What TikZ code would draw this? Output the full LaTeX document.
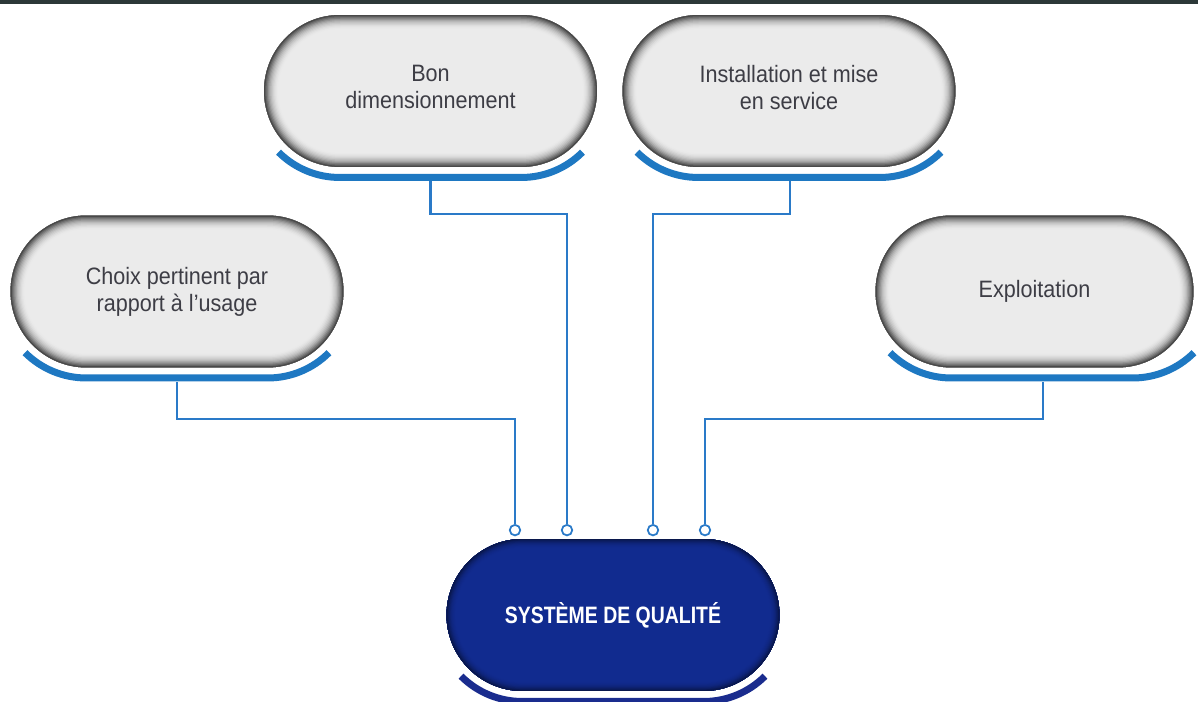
\documentclass[tikz,border=0pt]{standalone}
\usepackage{fontspec}
\setmainfont{Liberation Sans}[FakeStretch=0.91]
\newfontfamily\qualfont{Liberation Sans}[FakeStretch=0.82]
\usepackage{tikz}
\usetikzlibrary{calc}
\definecolor{pillgray}{HTML}{EBEBEB}
\definecolor{pilltext}{HTML}{3D3D45}
\definecolor{qualnavy}{HTML}{112B8F}
\definecolor{bandblue}{HTML}{1E78C2}
\definecolor{bandnavy}{HTML}{1A2C8E}
\definecolor{linkblue}{HTML}{2A7AC8}
\definecolor{topbar}{HTML}{2C3838}

% inner shadow of a pill: base colour, reach (cm), darkness at the rim
\newcommand{\pillglow}[3]{%
  \foreach \k [evaluate=\k as \lw using {2*#2*(1-\k/12)},
               evaluate=\k as \mx using {int(100-#3*(\k/12)^2)}] in {0,...,11}
    \draw[line width=\lw cm, #1!\mx!black, rounded corners=1.52cm]
      (path picture bounding box.south west) rectangle (path picture bounding box.north east);}

% blue band under a pill: node, colour, extra length on the right
\newcommand{\underband}[3]{%
  \draw[line width=0.14cm, #2] ($(#1.west)+(76,0)$) ++(225:1.73cm)
    arc[start angle=225, end angle=270, radius=1.73cm]
    -- ($(#1.east)+(-76+#3,-86.5)$)
    arc[start angle=270, end angle=315, radius=1.73cm];}

\begin{document}
\begin{tikzpicture}[
    x=0.02cm, y=0.02cm,
    pill/.style={rectangle, rounded corners=1.52cm, minimum width=6.66cm, minimum height=3.04cm,
        inner sep=0pt, fill=pillgray, text=pilltext, align=center,
        font=\fontsize{13.5}{15.4}\selectfont, path picture={\pillglow{pillgray}{0.3}{82}}},
    qual/.style={pill, fill=qualnavy, text=white,
        font=\qualfont\bfseries\fontsize{13.5}{15.4}\selectfont, path picture={\pillglow{qualnavy}{0.2}{55}}},
    link/.style={linkblue, line width=0.045cm},
    plug/.style={circle, draw=linkblue, fill=white, line width=0.035cm, minimum size=0.21cm, inner sep=0pt}
]
    \clip (0,0) rectangle (1198,702);
    \fill[topbar] (0,698) rectangle (1198,702);

    % top row
    \node[pill] (bon) at (430.5,611) {Bon\\dimensionnement\\[-11pt]};
    \node[pill] (inst) at (789,611) {Installation et mise\\en service\\[-11pt]};

    % middle row
    \node[pill] (choix) at (177,410.5) {Choix pertinent par\\rapport à l’usage};
    \node[pill, minimum width=6.36cm] (expl) at (1034.5,410.5) {Exploitation};

    % centre
    \node[qual] (qual) at (613,87) {SYSTÈME DE QUALITÉ};

    % bands
    \underband{bon}{bandblue}{0}
    \underband{inst}{bandblue}{0}
    \underband{choix}{bandblue}{0}
    \underband{expl}{bandblue}{15}
    \underband{qual}{bandnavy}{0}

    % plugs on top of the centre
    \foreach \p/\dx in {plug1/-98, plug2/-46, plug3/40, plug4/92}
        \node[plug] (\p) at ($(qual.north)+(\dx,8.5)$) {};

    % connectors
    \foreach \a/\dx/\drop/\b in {choix/0/37/plug1, bon/0/33/plug2, inst/1/33/plug3, expl/8.5/37/plug4}
        \draw[link] ($(\a.south)+(\dx,-14)$) -- ++(0,-\drop) -| (\b);
\end{tikzpicture}
\end{document}
